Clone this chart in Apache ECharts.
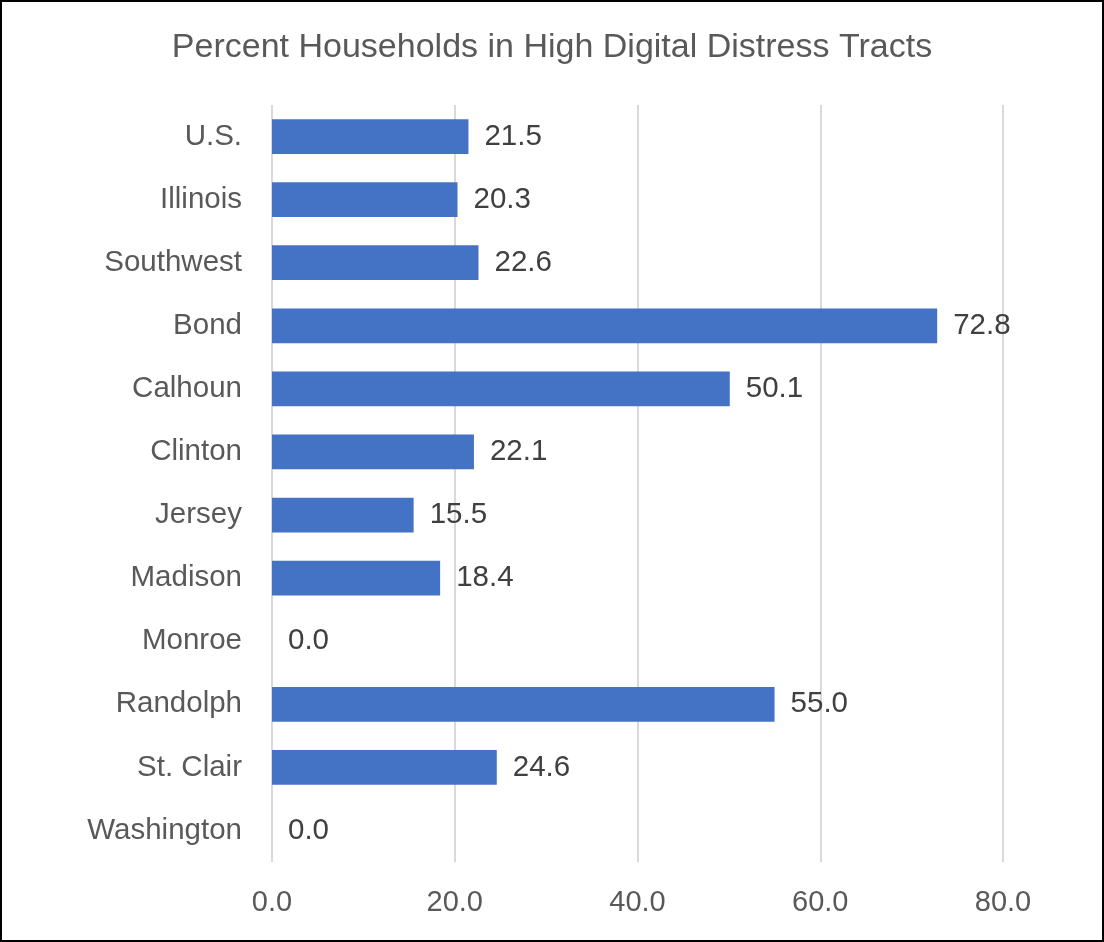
<!DOCTYPE html>
<html>
<head>
<meta charset="utf-8">
<script src="https://cdn.jsdelivr.net/npm/echarts@6/dist/echarts.min.js"></script>
<style>
  html, body { margin: 0; padding: 0; background: #fff; }
  #frame { width: 1104px; height: 942px; box-sizing: border-box; border: 2px solid #000; }
  #chart { width: 100%; height: 100%; }
</style>
</head>
<body>
<div id="frame"><div id="chart"></div></div>
<script>
// categories top to bottom, as in the picture
var categories = ['U.S.', 'Illinois', 'Southwest', 'Bond', 'Calhoun', 'Clinton',
                  'Jersey', 'Madison', 'Monroe', 'Randolph', 'St. Clair', 'Washington'];
var pctHouseholds = [21.5, 20.3, 22.6, 72.8, 50.1, 22.1, 15.5, 18.4, 0.0, 55.0, 24.6, 0.0];
var xTicks = [0, 20, 40, 60, 80];

var font = 'Liberation Sans';

var chart = echarts.init(document.getElementById('chart'));
chart.setOption({
    animation: false,
    title: {
        text: 'Percent Households in High Digital Distress Tracts',
        left: 'center',
        top: 24,
        textStyle: { fontFamily: font, fontSize: 34, fontWeight: 'normal', color: '#595959' }
    },
    grid: { left: 270, right: 99, top: 103, bottom: 78, containLabel: false },
    xAxis: {
        type: 'value',
        min: xTicks[0],
        max: xTicks[xTicks.length - 1],
        interval: 20,
        axisLine: { show: false },
        axisTick: { show: false },
        splitLine: { lineStyle: { color: '#d9d9d9', width: 2 } },
        axisLabel: {
            margin: 26,
            fontFamily: font, fontSize: 29, color: '#595959',
            formatter: function (v) { return v.toFixed(1); }
        }
    },
    yAxis: {
        type: 'category',
        inverse: true,
        data: categories,
        axisLine: { show: false },
        axisTick: { show: false },
        axisLabel: { margin: 30, fontFamily: font, fontSize: 29.5, color: '#595959' }
    },
    series: [{
        type: 'bar',
        data: pctHouseholds,
        barCategoryGap: '45%',
        itemStyle: { color: '#4472C4' },
        label: {
            show: true,
            position: 'right',
            distance: 16,
            fontFamily: font, fontSize: 29.5, color: '#404040',
            formatter: function (p) { return p.value.toFixed(1); }
        }
    }]
});
</script>
</body>
</html>
